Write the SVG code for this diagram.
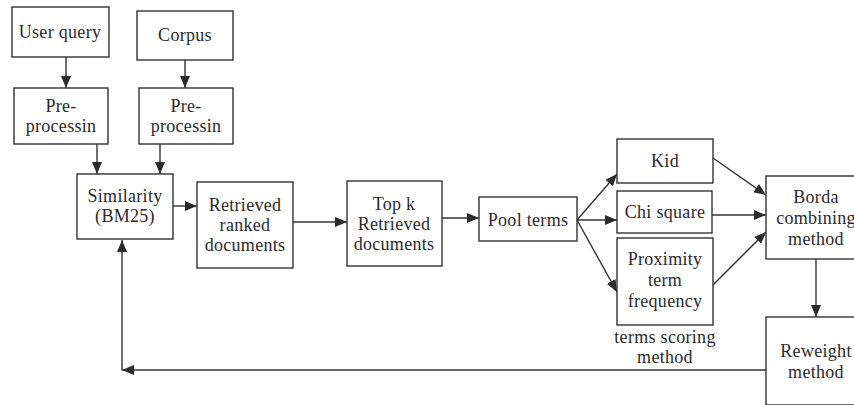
<svg xmlns="http://www.w3.org/2000/svg" width="854" height="405" viewBox="0 0 854 405">
<defs>
<marker id="ah" markerWidth="12" markerHeight="10" refX="12" refY="5" orient="auto" markerUnits="userSpaceOnUse">
<path d="M0,0 L12,5 L0,10 Z" fill="#2b2b2b"/>
</marker>
<style>
.box{fill:#fff;stroke:#333;stroke-width:1.4}
.c{fill:none;stroke:#333;stroke-width:1.4;marker-end:url(#ah)}
text{font-family:"Liberation Serif","Times New Roman",serif;font-size:18px;fill:#2b2b2b;text-anchor:middle;letter-spacing:0.3px}
</style>
</defs>
<rect width="854" height="405" fill="#fff"/>
<g id="connectors">
<line class="c" x1="66" y1="57" x2="66" y2="88"/>
<line class="c" x1="185" y1="60" x2="185" y2="88"/>
<line class="c" x1="97" y1="144" x2="97" y2="174"/>
<line class="c" x1="160" y1="144" x2="160" y2="174"/>
<line class="c" x1="173" y1="206" x2="197" y2="206"/>
<line class="c" x1="293" y1="222" x2="347" y2="222"/>
<line class="c" x1="442" y1="218" x2="479" y2="218"/>
<line class="c" x1="577" y1="220" x2="617" y2="174"/>
<line class="c" x1="577" y1="220" x2="617" y2="220"/>
<line class="c" x1="577" y1="220" x2="617" y2="292"/>
<line class="c" x1="713" y1="158" x2="766" y2="195"/>
<line class="c" x1="712" y1="215" x2="766" y2="215"/>
<line class="c" x1="713" y1="285" x2="766" y2="232"/>
<line class="c" x1="816" y1="259" x2="816" y2="317"/>
<line class="c" x1="766" y1="370" x2="122" y2="370"/>
<line class="c" x1="122" y1="370" x2="122" y2="240"/>
</g>
<g id="user-query"><rect class="box" x="12" y="7" width="97" height="50"/><text x="60" y="38">User query</text></g>
<g id="corpus"><rect class="box" x="137" y="11" width="96" height="49"/><text x="185" y="41">Corpus</text></g>
<g id="pre-query"><rect class="box" x="14" y="88" width="94" height="56"/><text x="61" y="112">Pre-</text><text x="61" y="132">processin</text></g>
<g id="pre-corpus"><rect class="box" x="139" y="88" width="94" height="56"/><text x="186" y="112">Pre-</text><text x="186" y="132">processin</text></g>
<g id="similarity"><rect class="box" x="77" y="174" width="96" height="65"/><text x="125" y="202">Similarity</text><text x="125" y="222">(BM25)</text></g>
<g id="retrieved"><rect class="box" x="197" y="182" width="96" height="86"/><text x="245" y="211">Retrieved</text><text x="245" y="231">ranked</text><text x="245" y="251">documents</text></g>
<g id="topk"><rect class="box" x="347" y="181" width="95" height="85"/><text x="394" y="210">Top k</text><text x="394" y="230">Retrieved</text><text x="394" y="250">documents</text></g>
<g id="pool"><rect class="box" x="479" y="197" width="98" height="44"/><text x="528" y="226">Pool terms</text></g>
<g id="kid"><rect class="box" x="617" y="139" width="96" height="44"/><text x="665" y="167">Kid</text></g>
<g id="chi"><rect class="box" x="617" y="191" width="95" height="42"/><text x="665" y="218">Chi square</text></g>
<g id="proximity"><rect class="box" x="617" y="238" width="96" height="87"/><text x="665" y="265">Proximity</text><text x="665" y="286">term</text><text x="665" y="307">frequency</text></g>
<g id="scoring-label"><text x="665" y="343">terms scoring</text><text x="665" y="363">method</text></g>
<g id="borda"><rect class="box" x="766" y="176" width="100" height="83"/><text x="816" y="203">Borda</text><text x="816" y="224">combining</text><text x="816" y="245">method</text></g>
<g id="reweight"><rect class="box" x="766" y="317" width="100" height="88"/><text x="816" y="357">Reweight</text><text x="816" y="378">method</text></g>
</svg>
